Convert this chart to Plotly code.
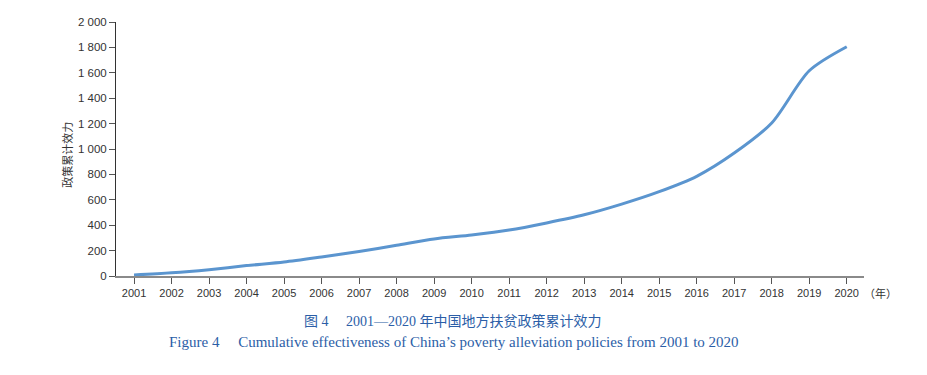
import plotly.graph_objects as go

years = list(range(2001, 2021))
values = [8, 25, 50, 82, 110, 150, 193, 242, 292, 323, 362, 418, 482, 566, 664, 785, 968, 1205, 1616, 1805]
y_ticks = [0, 200, 400, 600, 800, 1000, 1200, 1400, 1600, 1800, 2000]

caption_cn = "图 4\u2003 2001—2020 年中国地方扶贫政策累计效力"
caption_en = "Figure 4\u2003 Cumulative effectiveness of China\u2019s poverty alleviation policies from 2001 to 2020"
y_title = "政策累计效力"
x_unit = "（年）"

fig = go.Figure()
fig.add_trace(go.Scatter(
    x=years, y=values, mode="lines",
    line=dict(color="#5b95cf", width=3, shape="spline", smoothing=0.8),
    hoverinfo="x+y", showlegend=False,
))

fig.update_layout(
    width=927, height=375,
    margin=dict(l=108, r=71, t=8, b=107),
    paper_bgcolor="white", plot_bgcolor="white",
    separators=". ",
    font=dict(family="Liberation Sans, Arial, sans-serif", size=11, color="#333333"),
    xaxis=dict(
        range=[2000.52, 2020.46], tickmode="array", tickvals=years,
        ticktext=[str(y) for y in years],
        showgrid=False, zeroline=False,
        showline=True, linecolor="#8a8a8a", linewidth=2,
        ticks="outside", ticklen=6, tickcolor="#555555", tickwidth=1,
        tickfont=dict(size=11, color="#333333"),
    ),
    yaxis=dict(
        range=[0, 2000], tickmode="array", tickvals=y_ticks,
        tickformat=",d",
        showgrid=False, zeroline=False,
        showline=True, linecolor="#333333", linewidth=1,
        ticks="outside", ticklen=6, tickcolor="#555555", tickwidth=1,
        tickfont=dict(size=11.5, color="#333333"),
    ),
)

fig.add_annotation(
    text=y_title, xref="paper", yref="paper", x=-0.0655, y=0.477,
    textangle=-90, showarrow=False, xanchor="center", yanchor="middle",
    font=dict(family="Noto Sans CJK SC", size=11, color="#333333"),
)
fig.add_annotation(
    text=x_unit, xref="paper", yref="paper", x=0.997, y=-0.065,
    showarrow=False, xanchor="left", yanchor="middle",
    font=dict(family="Noto Sans CJK SC", size=11, color="#333333"),
)
fig.add_annotation(
    text=caption_cn, xref="paper", yref="paper", x=0.4505, y=-0.177,
    showarrow=False, xanchor="center", yanchor="middle",
    font=dict(family="Liberation Serif, Noto Sans CJK SC", size=14, color="#2b5ea7"),
)
fig.add_annotation(
    text=caption_en, xref="paper", yref="paper", x=0.452, y=-0.258,
    showarrow=False, xanchor="center", yanchor="middle",
    font=dict(family="Liberation Serif, Times New Roman, serif", size=15, color="#2b5ea7"),
)

fig.write_html("out.html")
